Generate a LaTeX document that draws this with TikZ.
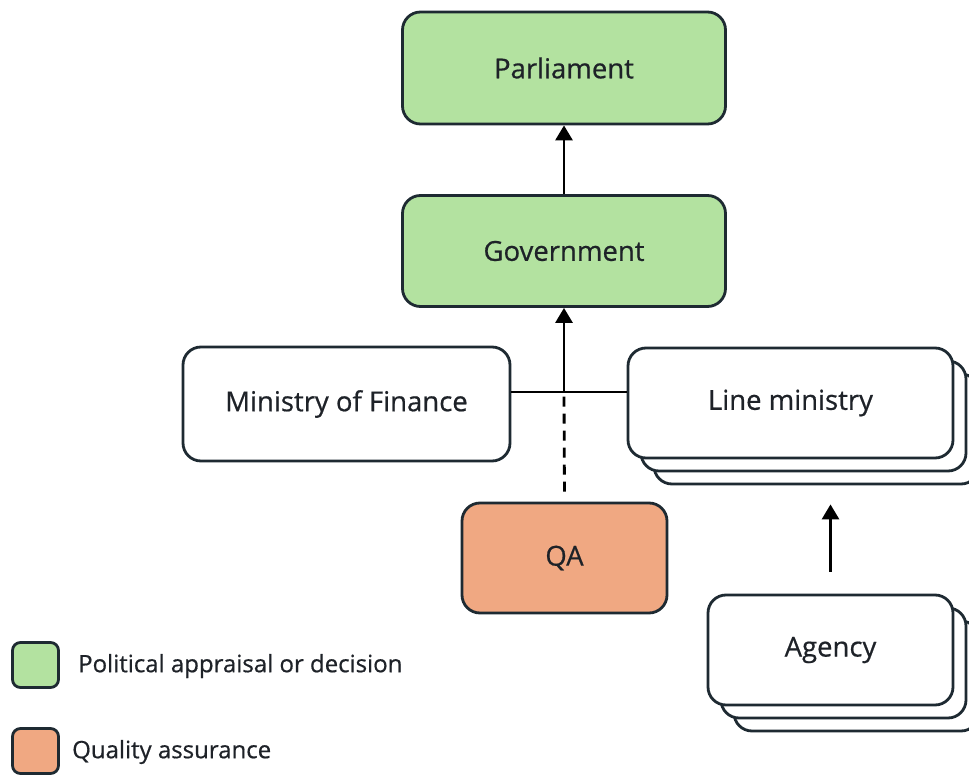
\documentclass[tikz,border=0pt]{standalone}
\usepackage{fontspec}
\setmainfont{Open Sans}[FakeBold=0.6]
\usetikzlibrary{arrows.meta}
\definecolor{pgreen}{RGB}{179,226,160}
\definecolor{porange}{RGB}{240,168,130}
\definecolor{edge}{RGB}{30,42,50}
\definecolor{txt}{RGB}{30,34,40}
\tikzset{
  box/.style={draw=edge, line width=2.8pt, rounded corners=18pt, fill=white,
    text=txt, font=\fontsize{27.5}{32}\selectfont, inner sep=0pt},
  greenbox/.style={box, fill=pgreen},
  orangebox/.style={box, fill=porange},
  legbox/.style={draw=edge, line width=2.8pt, rounded corners=8pt, inner sep=0pt,
    minimum width=46pt, minimum height=45pt},
  legtext/.style={text=txt, font=\fontsize{24}{28}\selectfont, anchor=west, inner sep=0pt},
  conn/.style={draw=black, line width=2.8pt},
  arr/.style={conn, -{Triangle[width=17pt,length=15pt]}},
}
\begin{document}
\begin{tikzpicture}[x=1pt,y=-1pt]
\useasboundingbox (0,0) rectangle (969,775);
\clip (0,0) rectangle (969,775);
\fill[white] (0,0) rectangle (969,775);
% top nodes
\node[greenbox, minimum width=323pt, minimum height=112pt] (parl) at (564,68) {Parliament};
\node[greenbox, minimum width=323pt, minimum height=111pt] (gov) at (564,251) {Government};
\node[box, minimum width=327pt, minimum height=114pt] (mof) at (346.5,404) {Ministry of Finance};
% line ministry stack
\node[box, minimum width=325pt, minimum height=110pt] (lm3) at (816.5,429) {};
\node[box, minimum width=325pt, minimum height=110pt] (lm2) at (803.5,416) {};
\node[box, minimum width=325pt, minimum height=110pt] (lm) at (790.5,403) {Line ministry};
% QA
\node[orangebox, minimum width=205pt, minimum height=110pt] (qa) at (564.5,558) {QA};
% agency stack
\node[box, minimum width=245pt, minimum height=110pt] (ag3) at (856.5,676) {};
\node[box, minimum width=245pt, minimum height=110pt] (ag2) at (843.5,663) {};
\node[box, minimum width=245pt, minimum height=110pt] (ag) at (830.5,650) {Agency};
% connectors
\coordinate (j) at (564,392);
\draw[conn] (mof.east |- j) -- (lm.west |- j);
\draw[arr] (j) -- (gov.south);
\draw[arr] (gov.north) -- (parl.south);
\draw[conn, dash pattern=on 10pt off 7pt, shorten <=10pt] (qa.north) -- (j);
\draw[arr, shorten <=22pt, shorten >=19pt] (ag.north) -- (ag.north |- lm3.south);
% legend
\node[legbox, fill=pgreen] (lg) at (35.5,665) {};
\node[legtext] (lgt) at (78,666) {Political appraisal or decision};
\node[legbox, fill=porange] (lo) at (35.5,751) {};
\node[legtext] (lot) at (72,752) {Quality assurance};
\end{tikzpicture}
\end{document}
